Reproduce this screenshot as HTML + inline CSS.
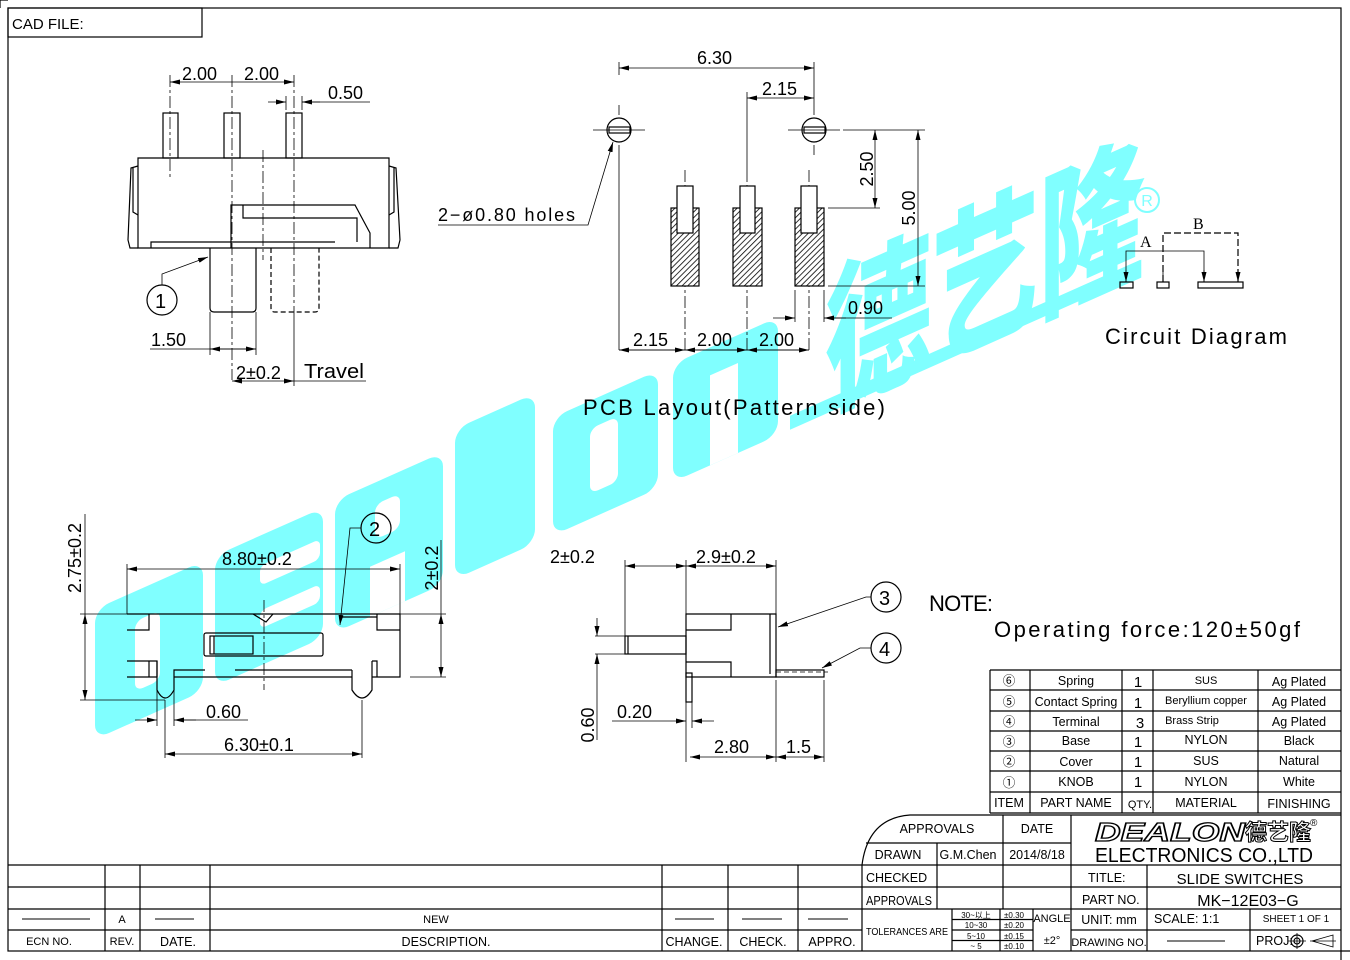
<!DOCTYPE html>
<html><head><meta charset="utf-8"><style>
html,body{margin:0;padding:0;background:#fff}
svg{display:block}
text{font-family:"Liberation Sans","Noto Sans CJK SC",sans-serif;fill:#000}
.d{font-size:18px}
.s{font-size:11px}
.m{font-size:12.5px}
</style></head><body>
<svg width="1350" height="960" viewBox="0 0 1350 960" xmlns="http://www.w3.org/2000/svg">
<defs>
<pattern id="h" width="4" height="4" patternUnits="userSpaceOnUse" patternTransform="rotate(45)"><rect width="4" height="4" fill="#fff"/><line x1="0" y1="0" x2="0" y2="4" stroke="#000" stroke-width="1.6"/></pattern>
<marker id="a" markerWidth="10" markerHeight="6" refX="10" refY="3" orient="auto-start-reverse" markerUnits="userSpaceOnUse"><path d="M0,0.5 L10,3 L0,5.5z" fill="#000"/></marker>
</defs>

<!-- watermark -->
<g transform="translate(100,737) skewY(-24)" fill="#80ffff">
<rect x="-5" y="-130" width="108" height="130" rx="14"/>
<rect x="115" y="-130" width="108" height="130" rx="14"/>
<rect x="235" y="-132" width="108" height="132" rx="14"/>
<rect x="355" y="-150" width="80" height="150" rx="14"/>
<rect x="453" y="-118" width="105" height="118" rx="14"/>
<rect x="573" y="-118" width="105" height="118" rx="14"/>
<rect x="690" y="-14" width="350" height="14"/>
<g fill="#fff">
<rect x="35" y="-100" width="25" height="70" rx="8"/>
<rect x="160" y="-100" width="60" height="20" rx="6"/>
<rect x="160" y="-55" width="60" height="18" rx="6"/>
<rect x="275" y="-110" width="25" height="35" rx="8"/>
<rect x="270" y="-50" width="35" height="50"/>
<rect x="490" y="-90" width="28" height="65" rx="8"/>
<rect x="610" y="-90" width="28" height="90"/>
</g>
<g transform="translate(725,-8) scale(1,1.4)">
<text x="0" y="0" style="font-family:'Noto Sans CJK SC',sans-serif;font-weight:900;font-size:115px;fill:#80ffff" textLength="320" lengthAdjust="spacingAndGlyphs">德艺隆</text>
</g>
</g>
<circle cx="1147" cy="200" r="12" fill="none" stroke="#80ffff" stroke-width="2"/>
<text x="1147" y="206" text-anchor="middle" style="font-size:16px;fill:#80ffff">R</text>

<g fill="none" stroke="#000" stroke-width="1.2">
<rect x="8" y="8" width="1333" height="943"/>
<path d="M0,0 H8 M0,0 V8 M1341,951 H1350 M1341,951 V960"/>
<rect x="8" y="8" width="194" height="29"/>

<rect x="163" y="113" width="15" height="45"/>
<rect x="224" y="113" width="16" height="45"/>
<rect x="286" y="113" width="16" height="45"/>
<path d="M138,158 H389 V248 H138 Z"/>
<path d="M138,166 L131,168 L128,240 L130,248 H138 M133,168 L133,212 L138,215"/>
<path d="M389,166 L396,168 L400,240 L398,248 H389 M394,168 L394,212 L389,215"/>
<path d="M231,248 V205 H355 L370,233 V248 M243,205 V218 H357 V242 M151,248 V242 H335"/>
<path d="M210,248 V308 Q210,312 214,312 H252 Q256,312 256,308 V248"/>
<path d="M271,248 V308 Q271,312 275,312 H315 Q319,312 319,308 V248" stroke-dasharray="5,3"/>
<g stroke-width="0.8" stroke-dasharray="12,3,3,3">
<path d="M170,75 V180 M232,75 V380 M294,75 V312 M263,150 V260"/>
</g>
<g stroke-width="0.8">
<path d="M170,82 H294" marker-start="url(#a)" marker-end="url(#a)"/>
<path d="M268,102 H286" marker-end="url(#a)"/>
<path d="M320,102 H302" marker-end="url(#a)"/>
<path d="M302,102 H370"/>
<path d="M286,96 V110 M302,96 V110"/>
<path d="M210,312 V355 M256,312 V355 M150,349 H256"/>
<path d="M210,349 H256" marker-start="url(#a)" marker-end="url(#a)"/>
<path d="M294,312 V386"/>
<path d="M232,381 H294" marker-start="url(#a)" marker-end="url(#a)"/>
<path d="M294,381 H366"/>
<path d="M162,285 V274 L208,257" marker-end="url(#a)"/>
</g>
<circle cx="162" cy="300" r="15"/>

<circle cx="619" cy="130" r="12"/>
<rect x="609" y="127" width="21" height="6"/>
<circle cx="814" cy="130" r="12"/>
<rect x="804" y="127" width="21" height="6"/>
<g stroke-width="0.8">
<path d="M593,130 H645 M619,105 V115 M619,145 V350 M788,130 H840 M814,62 V115 M814,145 V155"/>
<path d="M619,62 V75"/>
<path d="M619,68 H814" marker-start="url(#a)" marker-end="url(#a)"/>
<path d="M747,92 V170"/>
<path d="M747,98 H814" marker-start="url(#a)" marker-end="url(#a)"/>
<path d="M843,130 H925 M828,208 H880 M828,286 H925"/>
<path d="M875,130 V208" marker-start="url(#a)" marker-end="url(#a)"/>
<path d="M918,130 V286" marker-start="url(#a)" marker-end="url(#a)"/>
<path d="M795,290 V322 M824,290 V322"/>
<path d="M773,318 H795" marker-end="url(#a)"/>
<path d="M846,318 H824" marker-end="url(#a)"/>
<path d="M824,318 H892"/>
<path d="M619,350 H809"/>
<path d="M619,350 H685" marker-start="url(#a)" marker-end="url(#a)"/>
<path d="M685,350 H747" marker-start="url(#a)" marker-end="url(#a)"/>
<path d="M747,350 H809" marker-start="url(#a)" marker-end="url(#a)"/>
<path d="M438,225 H588 L613,142" marker-end="url(#a)"/>
</g>
<g stroke-width="0.8" stroke-dasharray="12,3,3,3">
<path d="M685,170 V352 M747,170 V352 M809,170 V352"/>
</g>
<rect x="671" y="208" width="28" height="78" fill="url(#h)"/>
<rect x="733" y="208" width="29" height="78" fill="url(#h)"/>
<rect x="795" y="208" width="29" height="78" fill="url(#h)"/>
<rect x="677" y="186" width="16" height="47" fill="#fff"/>
<rect x="740" y="186" width="15" height="47" fill="#fff"/>
<rect x="801" y="186" width="16" height="47" fill="#fff"/>

<rect x="1120" y="282" width="13" height="6"/>
<rect x="1157" y="282" width="12" height="6"/>
<rect x="1198" y="282" width="45" height="6"/>
<g stroke-width="0.8">
<path d="M1126,282 V251 H1204 V282"/>
<path d="M1126,270 V282" marker-end="url(#a)"/>
<path d="M1204,270 V282" marker-end="url(#a)"/>
</g>
<path d="M1163,282 V233 H1238 V282" stroke-dasharray="7,3"/>
<path d="M1163,272 V282 M1238,272 V282" marker-end="url(#a)" stroke-width="0.8"/>

<path d="M127,614 H400 V677 H372 M352,677 H174 M157,677 H127 Z"/>
<path d="M149,614 V630 H127 M377,614 V630 H400 M127,661 H149 V677 M149,661 H157 V677 M372,661 H377 V677"/>
<path d="M157,661 V690 Q165,706 174,690 V670 H205 M352,670 H235 M352,670 V690 Q362,706 372,690 V661"/>
<path d="M253,614 L266,622 L273,614"/>
<path d="M340,617 H377"/>
<rect x="204" y="633" width="119" height="23" rx="2"/>
<rect x="210" y="636" width="43" height="18"/>
<path d="M214,636 V654"/>
<g stroke-width="0.8">
<path d="M127,564 V614 M400,564 V614"/>
<path d="M127,569 H400" marker-start="url(#a)" marker-end="url(#a)"/>
<path d="M80,614 H127 M80,700 H165"/>
<path d="M85,614 V700" marker-start="url(#a)" marker-end="url(#a)"/>
<path d="M85,514 V614"/>
<path d="M400,614 H446 M410,677 H446"/>
<path d="M441,614 V677" marker-start="url(#a)" marker-end="url(#a)"/>
<path d="M441,540 V614"/>
<path d="M157,690 V726 M174,690 V726"/>
<path d="M135,720 H157" marker-end="url(#a)"/>
<path d="M196,720 H174" marker-end="url(#a)"/>
<path d="M174,720 H248"/>
<path d="M165,700 V758 M362,700 V758"/>
<path d="M165,754 H362" marker-start="url(#a)" marker-end="url(#a)"/>
<path d="M361,528 H350 L340,625" marker-end="url(#a)"/>
</g>
<path d="M264,600 V690" stroke-width="0.8" stroke-dasharray="12,3,3,3"/>
<circle cx="376" cy="528" r="15"/>

<path d="M686,614 H776 V677 H686 Z"/>
<path d="M686,630 H731 V614 M686,662 H731 V677 M770,614 V674"/>
<rect x="625" y="636" width="61" height="18"/>
<path d="M628,636 V654"/>
<rect x="776" y="670" width="48" height="7"/>
<rect x="686" y="673" width="6" height="29"/>
<g stroke-width="0.8">
<path d="M776,672 H828" stroke-dasharray="5,3"/>
<path d="M625,560 V636 M686,560 V614 M776,560 V614"/>
<path d="M625,566 H686" marker-start="url(#a)" marker-end="url(#a)"/>
<path d="M686,566 H776" marker-start="url(#a)" marker-end="url(#a)"/>
<path d="M595,636 H625 M595,654 H625"/>
<path d="M597,618 V636" marker-end="url(#a)"/>
<path d="M597,740 V654" marker-end="url(#a)"/>
<path d="M686,702 V762 M692,702 V728"/>
<path d="M612,721 H686" marker-end="url(#a)"/>
<path d="M714,721 H692" marker-end="url(#a)"/>
<path d="M776,680 V762 M824,680 V762"/>
<path d="M690,757 H776" marker-start="url(#a)" marker-end="url(#a)"/>
<path d="M776,757 H824" marker-start="url(#a)" marker-end="url(#a)"/>
<path d="M871,597 H866 L778,627" marker-end="url(#a)"/>
<path d="M871,648 H860 L822,668" marker-end="url(#a)"/>
</g>
<circle cx="886" cy="597" r="15"/>
<circle cx="886" cy="648" r="15"/>

<path d="M990,670 H1341 M990,690 H1341 M990,711 H1341 M990,731 H1341 M990,751 H1341 M990,771 H1341 M990,792 H1341 M990,813 H1341"/>
<path d="M990,670 V813 M1030,670 V813 M1122,670 V813 M1153,670 V813 M1258,670 V813"/>

<path d="M862,865 Q868,818 910,815 H1341"/>
<path d="M862,865 V951"/>
<path d="M866,843 H1071 M862,865 H1341 M862,887 H1341 M862,909 H1341 M1071,930 H1341"/>
<path d="M937,843 V909 M1003,815 V909 M1071,815 V951 M1147,865 V951 M1250,909 V951"/>
<path d="M952,909 V951 M1000,909 V951 M1033,909 V951 M952,919.5 H1033 M952,930 H1033 M952,940.5 H1033"/>
<path d="M8,865 H862 M8,887 H862 M8,909 H862 M8,930 H862"/>
<path d="M105,865 V951 M140,865 V951 M210,865 V951 M662,865 V951 M728,865 V951 M798,865 V951"/>
<path d="M22,919 H90 M155,919 H194 M675,919 H714 M742,919 H782 M808,919 H848 M1167,941 H1225" stroke-width="1"/>
<circle cx="1297" cy="941" r="6"/><circle cx="1297" cy="941" r="3"/>
<path d="M1288,941 H1306 M1297,933 V949 M1312,941 L1333,935 V947 Z M1310,941 H1336" stroke-width="0.8"/>
</g>

<text x="12" y="29" style="font-size:15px">CAD FILE:</text>
<g class="d">
<text x="182" y="80">2.00</text><text x="244" y="80">2.00</text><text x="328" y="99">0.50</text>
<text x="151" y="346">1.50</text><text x="236" y="379">2±0.2</text><text x="304" y="378" style="font-size:20px" textLength="60" lengthAdjust="spacingAndGlyphs">Travel</text>
<text x="155" y="308" style="font-size:20px">1</text>
<text x="697" y="64">6.30</text><text x="762" y="95">2.15</text>
<text x="873" y="169" transform="rotate(-90 873 169)" text-anchor="middle">2.50</text>
<text x="915" y="208" transform="rotate(-90 915 208)" text-anchor="middle">5.00</text>
<text x="848" y="314">0.90</text>
<text x="633" y="346">2.15</text><text x="697" y="346">2.00</text><text x="759" y="346">2.00</text>
<text x="438" y="221" textLength="137" lengthAdjust="spacing">2−ø0.80  holes</text>
<text x="583" y="415" style="font-size:22px" textLength="302" lengthAdjust="spacing">PCB  Layout(Pattern  side)</text>
<text x="1105" y="344" style="font-size:22px" textLength="182" lengthAdjust="spacing">Circuit  Diagram</text>
<text x="1140" y="247" style="font-family:'Liberation Serif',serif;font-size:16px">A</text>
<text x="1193" y="229" style="font-family:'Liberation Serif',serif;font-size:16px">B</text>
<text x="222" y="565">8.80±0.2</text>
<text x="81" y="558" transform="rotate(-90 81 558)" text-anchor="middle">2.75±0.2</text>
<text x="438" y="568" transform="rotate(-90 438 568)" text-anchor="middle">2±0.2</text>
<text x="206" y="718">0.60</text><text x="224" y="751">6.30±0.1</text>
<text x="369" y="536" style="font-size:20px">2</text>
<text x="550" y="563">2±0.2</text><text x="696" y="563">2.9±0.2</text>
<text x="594" y="725" transform="rotate(-90 594 725)" text-anchor="middle">0.60</text>
<text x="617" y="718">0.20</text><text x="714" y="753">2.80</text><text x="786" y="753">1.5</text>
<text x="879" y="605" style="font-size:20px">3</text><text x="879" y="656" style="font-size:20px">4</text>
<text x="929" y="611" style="font-size:22px" textLength="64" lengthAdjust="spacing">NOTE:</text>
<text x="994" y="637" style="font-size:22px" textLength="306" lengthAdjust="spacing">Operating  force:120±50gf</text>
</g>

<g class="m" text-anchor="middle">
<text x="1009" y="685">⑥</text><text x="1009" y="706">⑤</text><text x="1009" y="726">④</text><text x="1009" y="746">③</text><text x="1009" y="766">②</text><text x="1009" y="787">①</text>
<text x="1076" y="685">Spring</text><text x="1076" y="706">Contact Spring</text><text x="1076" y="726">Terminal</text><text x="1076" y="745">Base</text><text x="1076" y="766">Cover</text><text x="1076" y="786">KNOB</text>
<text x="1138" y="687" style="font-size:15px">1</text><text x="1138" y="708" style="font-size:15px">1</text><text x="1140" y="728" style="font-size:15px">3</text><text x="1138" y="747" style="font-size:15px">1</text><text x="1138" y="767" style="font-size:15px">1</text><text x="1138" y="787" style="font-size:15px">1</text>
<text x="1206" y="684" class="s">SUS</text><text x="1206" y="704" class="s">Beryllium copper</text><text x="1192" y="724" class="s">Brass Strip</text><text x="1206" y="744">NYLON</text><text x="1206" y="765">SUS</text><text x="1206" y="786">NYLON</text>
<text x="1299" y="686">Ag Plated</text><text x="1299" y="706">Ag Plated</text><text x="1299" y="726">Ag Plated</text><text x="1299" y="745">Black</text><text x="1299" y="765">Natural</text><text x="1299" y="786">White</text>
<text x="1009" y="807">ITEM</text><text x="1076" y="807">PART NAME</text><text x="1140" y="808" class="s">QTY.</text><text x="1206" y="807">MATERIAL</text><text x="1299" y="808">FINISHING</text>
<text x="937" y="833">APPROVALS</text><text x="1037" y="833">DATE</text>
<text x="898" y="859">DRAWN</text><text x="968" y="859">G.M.Chen</text><text x="1037" y="859">2014/8/18</text>
<text x="1240" y="884" style="font-size:15px">SLIDE  SWITCHES</text>
<text x="1248" y="906" style="font-size:16px">MK−12E03−G</text>
<text x="1109" y="924">UNIT:  mm</text><text x="1109" y="946" class="s">DRAWING  NO.</text>
<text x="1052" y="922" class="s">ANGLE</text><text x="1052" y="944" class="s">±2°</text>
<text x="1296" y="922" style="font-size:10px">SHEET  1  OF  1</text>
<text x="49" y="945" class="s">ECN  NO.</text><text x="122" y="945" class="s">REV.</text><text x="178" y="946">DATE.</text><text x="122" y="923" class="s">A</text>
<text x="436" y="923" class="s">NEW</text><text x="446" y="946">DESCRIPTION.</text>
<text x="694" y="946">CHANGE.</text><text x="763" y="946">CHECK.</text><text x="832" y="946">APPRO.</text>
<text x="1014" y="918" style="font-size:8px">±0.30</text>
<text x="976" y="928" style="font-size:8px">10~30</text><text x="1014" y="928" style="font-size:8px">±0.20</text>
<text x="976" y="939" style="font-size:8px">5~10</text><text x="1014" y="939" style="font-size:8px">±0.15</text>
<text x="976" y="949" style="font-size:8px">~ 5</text><text x="1014" y="949" style="font-size:8px">±0.10</text>
<text x="976" y="918" style="font-size:8px">30~以上</text>
</g>
<g class="m">
<text x="866" y="882">CHECKED</text><text x="866" y="905" textLength="66" lengthAdjust="spacingAndGlyphs">APPROVALS</text>
<text x="866" y="935" style="font-size:10px" textLength="82" lengthAdjust="spacingAndGlyphs">TOLERANCES  ARE</text>
<text x="1088" y="882">TITLE:</text><text x="1082" y="904">PART  NO.</text>
<text x="1154" y="923">SCALE:   1:1</text><text x="1256" y="945">PROJ:</text>
</g>
<text x="1095" y="841" style="font-size:26px;font-weight:bold;font-style:italic;fill:#fff;stroke:#000;stroke-width:1.3" textLength="150" lengthAdjust="spacingAndGlyphs">DEALON</text>
<text x="1245" y="840" style="font-family:'Noto Sans CJK SC',sans-serif;font-size:22px;font-weight:bold;fill:#fff;stroke:#000;stroke-width:1" textLength="66" lengthAdjust="spacingAndGlyphs">德艺隆</text>
<text x="1310" y="826" style="font-size:10px">®</text>
<text x="1095" y="862" style="font-size:20px" textLength="218" lengthAdjust="spacingAndGlyphs">ELECTRONICS  CO.,LTD</text>
</svg>
</body></html>
